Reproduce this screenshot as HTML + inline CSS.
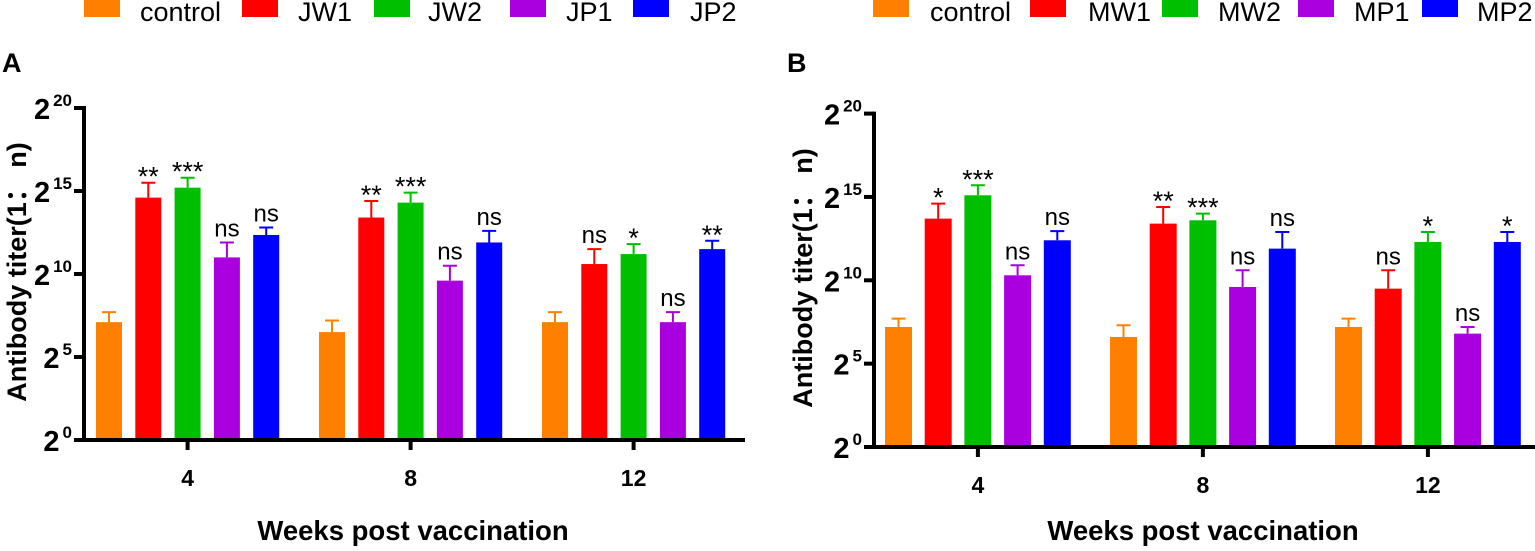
<!DOCTYPE html>
<html><head><meta charset="utf-8"><style>
html,body{margin:0;padding:0;background:#fff;}
svg{display:block;font-family:"Liberation Sans",Arial,sans-serif;}
</style></head><body>
<svg id="chart" width="1535" height="551" viewBox="0 0 1535 551" xmlns="http://www.w3.org/2000/svg"></svg>
<script>
const weeks = ["4", "8", "12"];
const colors = ["#ff8000", "#ff0000", "#00bf00", "#aa00e0", "#0000ff"];
const seriesA = ["control", "JW1", "JW2", "JP1", "JP2"];
const seriesB = ["control", "MW1", "MW2", "MP1", "MP2"];
// log2 means [series][week]
const meanA = [[7.1, 6.5, 7.1], [14.6, 13.4, 10.6], [15.2, 14.3, 11.2], [11.0, 9.6, 7.1], [12.35, 11.9, 11.5]];
const errA  = [[7.7, 7.2, 7.7], [15.5, 14.4, 11.5], [15.8, 14.9, 11.8], [11.9, 10.5, 7.7], [12.8, 12.6, 12.0]];
const sigA  = [["", "", ""], ["**", "**", "ns"], ["***", "***", "*"], ["ns", "ns", "ns"], ["ns", "ns", "**"]];
const meanB = [[7.2, 6.6, 7.2], [13.7, 13.4, 9.5], [15.1, 13.6, 12.3], [10.3, 9.6, 6.8], [12.4, 11.9, 12.3]];
const errB  = [[7.7, 7.3, 7.7], [14.6, 14.4, 10.6], [15.7, 14.0, 12.9], [10.9, 10.6, 7.2], [12.95, 12.9, 12.9]];
const sigB  = [["", "", ""], ["*", "**", "ns"], ["***", "***", "*"], ["ns", "ns", "ns"], ["ns", "ns", "*"]];
const yTicks = [0, 5, 10, 15, 20];

const NS = "http://www.w3.org/2000/svg";
const svg = document.getElementById("chart");
function mk(tag, attrs, parent, text) {
  const e = document.createElementNS(NS, tag);
  for (const k in attrs) e.setAttribute(k, attrs[k]);
  if (text !== undefined) e.textContent = text;
  (parent || svg).appendChild(e);
  return e;
}

function panel(cfg) {
  const g = mk("g", {});
  
  
  const y = v => cfg.base - v * cfg.unit;
  const groupX = i => cfg.firstX + i * cfg.groupStep;
  cfg.series.forEach((s, k) => {
    const r = mk("rect", {x: cfg.legSw[k], y: 0, width: 36, height: 17, fill: colors[k]}, g);
    
    
    const t = mk("text", {x: cfg.legTx[k], y: 21, "font-size": 27, fill: "#000"}, g, s);
    
    
  });
  const L = mk("text", {x: cfg.letterX, y: 72, "font-size": 27, "font-weight": "bold"}, g, cfg.letter);
  
  
  cfg.series.forEach((s, k) => {
    weeks.forEach((w, i) => {
      const x = groupX(i) + k * cfg.barStep;
      const top = y(cfg.mean[k][i]);
      const b = mk("rect", {x: x, y: top, width: cfg.barW, height: cfg.base - top, fill: colors[k]}, g);
      
      
      const cx = x + cfg.barW / 2, et = y(cfg.err[k][i]);
      const el = mk("path", {d: `M${cx},${top}V${et}M${cx-7},${et}H${cx+7}`, stroke: colors[k], "stroke-width": 2, fill: "none"}, g);
      
      
      const sg = cfg.sig[k][i];
      if (sg) {
        const isStar = sg.indexOf("*") >= 0;
        const t = mk("text", {x: cx, y: et - (isStar ? -3 : 6), "font-size": isStar ? 27 : 24, "text-anchor": "middle", fill: "#000"}, g, sg);
        
        
      }
    });
  });
  const ya = mk("path", {d: `M${cfg.axisX},${y(20)-2}V${cfg.base+2}`, stroke: "#000", "stroke-width": 4, fill: "none"}, g);
  
  
  const xa = mk("path", {d: `M${cfg.axisX-10},${cfg.base}H${cfg.axisEnd}`, stroke: "#000", "stroke-width": 4, fill: "none"}, g);
  
  
  yTicks.forEach(v => {
    const tk = mk("path", {d: `M${cfg.axisX-10},${y(v)}H${cfg.axisX}`, stroke: "#000", "stroke-width": 4}, g);
    
    
    const t = mk("text", {x: cfg.axisX - 12, y: y(v) + 11, "font-size": 29, "font-weight": "bold", "text-anchor": "end"}, g);
    
    
    mk("tspan", {}, t, "2");
    mk("tspan", {dy: -13, "font-size": 17, dx: 3}, t, String(v));
  });
  weeks.forEach((w, i) => {
    const cx = groupX(i) + (4 * cfg.barStep + cfg.barW) / 2;
    const tk = mk("path", {d: `M${cx},${cfg.base}V${cfg.base+10}`, stroke: "#000", "stroke-width": 4}, g);
    
    
    const t = mk("text", {x: cx, y: cfg.base + 46, "font-size": 23, "font-weight": "bold", "text-anchor": "middle"}, g, w);
    
    
  });
  const xt = mk("text", {x: cfg.xTitleX, y: 540, "font-size": 27.5, "font-weight": "bold", "text-anchor": "middle"}, g, "Weeks post vaccination");
  
  
  const yt = mk("text", {x: 0, y: 0, "font-size": 27, "font-weight": "bold", "text-anchor": "middle",
    transform: `translate(${cfg.yTitleX},${cfg.yTitleY}) rotate(-90)`}, g, "Antibody titer(1： n)");
  
  
}

panel({name: "panel-a", letter: "A", letterX: 2, series: seriesA, mean: meanA, err: errA, sig: sigA,
  base: 440, unit: 16.6, axisX: 84, axisEnd: 745, firstX: 96, groupStep: 223, barStep: 39.3, barW: 26,
  legSw: [84, 242, 374, 510, 633], legTx: [140, 298, 428, 566, 690], xTitleX: 413, yTitleX: 26, yTitleY: 272});
panel({name: "panel-b", letter: "B", letterX: 787, series: seriesB, mean: meanB, err: errB, sig: sigB,
  base: 447, unit: 16.67, axisX: 874, axisEnd: 1535, firstX: 885, groupStep: 225, barStep: 39.7, barW: 27,
  legSw: [873, 1030, 1162, 1298, 1422], legTx: [930, 1088, 1218, 1354, 1477], xTitleX: 1203, yTitleX: 812, yTitleY: 278});
</script>
</body></html>
